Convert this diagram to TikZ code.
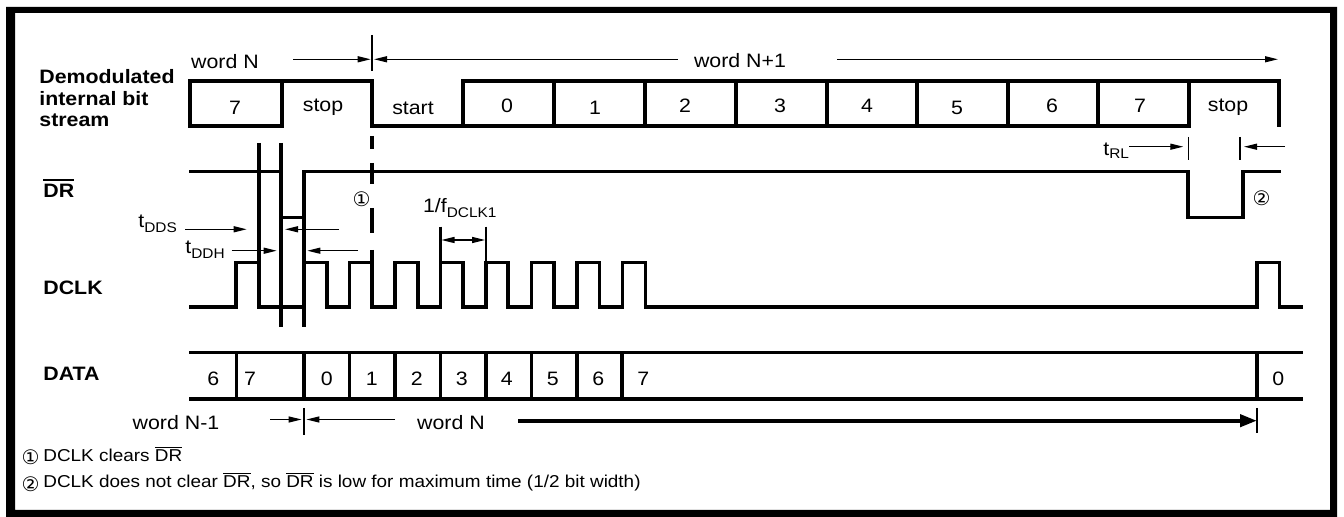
\documentclass[tikz,border=0pt]{standalone}
\usepackage{fontspec}
\setmainfont{Liberation Sans}[FakeStretch=1.1]
\newfontfamily\symfont{DejaVu Sans}
\usetikzlibrary{arrows.meta}
\newcommand\ovlb[1]{\leavevmode\vbox{\hrule height 1.1pt\kern 1.3pt\hbox{#1}}}
\newcommand\ovln[1]{\leavevmode\vbox{\hrule height 0.5pt\kern 1.1pt\hbox{#1}}}
\newcommand\subs[1]{\raisebox{-2.4pt}{\fontsize{7}{7}\selectfont #1}}
\begin{document}
\begin{tikzpicture}[x=0.5pt,y=-0.5pt,
  sig/.style={line width=1.8pt,line join=miter},
  med/.style={line width=1.3pt},
  fine/.style={line width=0.65pt},
  arr/.style={fine,-{Triangle[length=6.5pt,width=3pt]}},
  bigarr/.style={line width=2pt,-{Triangle[length=8.5pt,width=6pt]}},
  txt/.style={inner sep=0pt,anchor=base,font=\fontsize{9.7}{11}\selectfont},
  lab/.style={inner sep=0pt,anchor=base west,font=\fontsize{9.7}{11}\selectfont\bfseries},
  note/.style={inner sep=0pt,anchor=base west,font=\fontsize{8.6}{10}\selectfont},
  circ/.style={inner sep=0pt,font=\symfont\fontsize{10}{10}\selectfont}]
\useasboundingbox (0,0) rectangle (1344,517);
% frame
\fill[black,even odd rule] (6,7) rectangle (1337,517) (15,13) rectangle (1330,510);

% ---- labels on the left
\node[lab] (dem1) at (39,83.3) {Demodulated};
\node[lab] (dem2) at (39,105.5) {internal bit};
\node[lab] (dem3) at (39,126.5) {stream};
\node[lab] (drl) at (43,197.3) {\ovlb{DR}};
\node[lab] (dclkl) at (43,294.3) {DCLK};
\node[lab] (datal) at (43,381) {DATA};

% ---- demodulated bit stream
\draw[sig] (190,81) rectangle (282,126);
\draw[sig] (282,81) -- (372,81) -- (372,126) -- (463,126);
\draw[sig] (463,81) rectangle (1189,126);
\foreach \x in {554,645,736,827,917,1008,1098} \draw[sig] (\x,81) -- (\x,126);
\draw[sig] (1189,81) -- (1279,81) -- (1279,127);
\node[txt] (b7a) at (235,115) {7};
\node[txt] (bstopa) at (323,111.7) {stop};
\node[txt] (bstart) at (413,115) {start};
\node[txt] (b0) at (507,112.7) {0};
\node[txt] (b1) at (595,115) {1};
\node[txt] (b2) at (685,112.7) {2};
\node[txt] (b3) at (780,112.7) {3};
\node[txt] (b4) at (867,112.7) {4};
\node[txt] (b5) at (957,115) {5};
\node[txt] (b6) at (1052,112.7) {6};
\node[txt] (b7) at (1140,112.7) {7};
\node[txt] (bstop) at (1228,111.7) {stop};

% word N / word N+1
\node[txt] (wn) at (225,68.3) {word N};
\node[txt] (wn1) at (740,67.3) {word N+1};
\coordinate (wnA) at (293,59.3);
\coordinate (wnB) at (370.7,59.3);
\coordinate (wn1A) at (678,59.3);
\coordinate (wn1B) at (374,59.3);
\coordinate (wn1C) at (837,59.3);
\coordinate (wn1D) at (1278,59.3);
\coordinate (tkA) at (372,35);
\coordinate (tkB) at (372,71);
\draw[arr] (wnA) -- (wnB);
\draw[fine] (tkA) -- (tkB);
\draw[arr] (wn1A) -- (wn1B);
\draw[arr] (wn1C) -- (wn1D);

% ---- DR
\draw[sig] (189,171.7) -- (281,171.7);
\draw[sig] (281,217.5) -- (304,217.5);
\draw[sig] (304,327) -- (304,171.7) -- (1188,171.7) -- (1188,217.5) -- (1243,217.5) -- (1243,171.7) -- (1281,171.7);
\draw[sig] (259,143) -- (259,307);
\draw[sig] (281,143) -- (281,327);
% dashed marker at bit boundary
\foreach \a/\b in {136/149,163/184,208/233,250/263} \draw[sig] (372,\a) -- (372,\b);
\node[circ] (c1) at (361.7,199.3) {①};
\node[circ] (c2) at (1261.7,198.3) {②};

% t_RL
\node[txt,anchor=base west] (trl) at (1103,156) {t\raisebox{-1.2pt}{\fontsize{7}{7}\selectfont RL}};
\coordinate (rlA) at (1129,146.7);
\coordinate (rlB) at (1183.3,146.7);
\coordinate (rlC) at (1285,146.7);
\coordinate (rlD) at (1244,146.7);
\draw[arr] (rlA) -- (rlB);
\draw[arr] (rlC) -- (rlD);
\draw[fine] (1188.5,137) -- (1188.5,160.5);
\draw[fine] (1240,137) -- (1240,160.5);

% t_DDS, t_DDH
\node[txt,anchor=base west] (tdds) at (138,228) {t\subs{DDS}};
\node[txt,anchor=base west] (tddh) at (185,254) {t\subs{DDH}};
\coordinate (ddsA) at (185,229.3);
\coordinate (ddsB) at (246.7,229.3);
\coordinate (ddsC) at (339,229.3);
\coordinate (ddsD) at (285,229.3);
\coordinate (ddhA) at (231.7,250.7);
\coordinate (ddhB) at (276.7,250.7);
\coordinate (ddhC) at (358,250.7);
\coordinate (ddhD) at (307.3,250.7);
\draw[arr] (ddsA) -- (ddsB);
\draw[arr] (ddsC) -- (ddsD);
\draw[arr] (ddhA) -- (ddhB);
\draw[arr] (ddhC) -- (ddhD);

% ---- DCLK
\draw[sig] (189,307) -- (236,307) -- (236,262.5) -- (259,262.5) -- (259,307) -- (304,307)
  -- (304,262.5) -- (327,262.5) -- (327,307) -- (349.5,307)
  -- (349.5,262.5) -- (372,262.5) -- (372,307) -- (395,307)
  -- (395,262.5) -- (418,262.5) -- (418,307) -- (440.5,307)
  -- (440.5,262.5) -- (463,262.5) -- (463,307) -- (486,307)
  -- (486,262.5) -- (508,262.5) -- (508,307) -- (531.5,307)
  -- (531.5,262.5) -- (554,262.5) -- (554,307) -- (577,307)
  -- (577,262.5) -- (599.5,262.5) -- (599.5,307) -- (622.5,307)
  -- (622.5,262.5) -- (645.5,262.5) -- (645.5,307) -- (1257,307)
  -- (1257,262.5) -- (1279.5,262.5) -- (1279.5,307) -- (1303,307);

% 1/f_DCLK1
\node[txt,anchor=base west] (fdclk) at (422.7,213) {1/f\subs{DCLK1}};
\draw[med] (440.5,226.7) -- (440.5,262.5);
\draw[med] (486,226.7) -- (486,262.5);
\coordinate (fA) at (463,240);
\coordinate (fB) at (441.5,240);
\coordinate (fC) at (485,240);
\draw[arr] (fA) -- (fB);
\draw[arr] (fA) -- (fC);

% ---- DATA
\draw[sig] (189,352.7) -- (1303,352.7);
\draw[sig] (189,399.3) -- (1303,399.3);
\foreach \x in {236.5,304,349.5,395,440.5,486,531.5,577,622,1257} \draw[sig] (\x,352.7) -- (\x,399.3);
\node[txt] (d6a) at (213.3,385.5) {6};
\node[txt] (d7a) at (250,385.5) {7};
\node[txt] (d0) at (326.7,385.5) {0};
\node[txt] (d1) at (371.7,385.5) {1};
\node[txt] (d2) at (416.7,385.5) {2};
\node[txt] (d3) at (461.7,385.5) {3};
\node[txt] (d4) at (506.7,385.5) {4};
\node[txt] (d5) at (552.7,385.5) {5};
\node[txt] (d6) at (598.3,385.5) {6};
\node[txt] (d7) at (643.3,385.5) {7};
\node[txt] (d0b) at (1278.3,385.5) {0};

% word N-1 / word N
\node[txt] (wm1) at (176,429.3) {word N-1};
\node[txt] (wnb) at (451,430) {word N};
\coordinate (bA) at (270,419.5);
\coordinate (bB) at (301.7,419.5);
\coordinate (bC) at (395,419.5);
\coordinate (bD) at (306.3,419.5);
\coordinate (bE) at (518,420.7);
\coordinate (bF) at (1257,420.7);
\draw[arr] (bA) -- (bB);
\draw[arr] (bC) -- (bD);
\draw[med] (304,408) -- (304,435);
\draw[bigarr] (bE) -- (bF);
\draw[fine] (1257,408) -- (1257,433);

% ---- notes
\node[circ] (n1c) at (30.5,457.5) {①};
\node[note] (n1) at (43,461.7) {DCLK clears \ovln{DR}};
\node[circ] (n2c) at (30.5,484) {②};
\node[note] (n2) at (43,488) {DCLK does not clear \ovln{DR}, so \ovln{DR} is low for maximum time (1/2 bit width)};
\end{tikzpicture}
\end{document}
